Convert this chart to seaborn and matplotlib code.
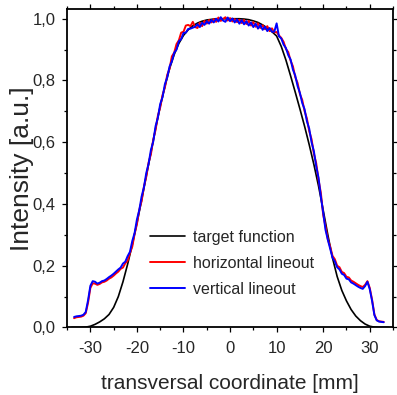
import seaborn as sns
import matplotlib.pyplot as plt
import numpy as np
from matplotlib.ticker import MultipleLocator, FuncFormatter

# target function, sampled every 1 mm from -34 to 34
target_x = np.arange(-34, 35, 1)
target_y = [0.000, 0.000, 0.000, 0.001, 0.004, 0.010, 0.018, 0.028, 0.042, 0.065,
            0.100, 0.148, 0.205, 0.268, 0.338, 0.412, 0.490, 0.566, 0.644, 0.716,
            0.780, 0.838, 0.884, 0.920, 0.946, 0.964, 0.977, 0.986, 0.992, 0.996,
            0.998, 1.000, 1.000, 1.000, 1.000, 1.000, 1.000, 0.999, 0.997, 0.993,
            0.988, 0.980, 0.970, 0.958, 0.944, 0.910, 0.866, 0.815, 0.762, 0.708,
            0.652, 0.592, 0.528, 0.458, 0.380, 0.300, 0.225, 0.165, 0.120, 0.086,
            0.058, 0.037, 0.022, 0.011, 0.004, 0.001, 0.000, 0.000, 0.000]

# measured lineouts, sampled every 0.5 mm from -33.5 to 33
lineout_x = np.arange(-33.5, 33.25, 0.5)
horizontal = [0.030, 0.033, 0.034, 0.035, 0.038, 0.046, 0.080, 0.128, 0.143, 0.142,
              0.138, 0.141, 0.146, 0.148, 0.152, 0.158, 0.162, 0.168, 0.175, 0.181,
              0.190, 0.194, 0.208, 0.216, 0.241, 0.262, 0.303, 0.335, 0.381, 0.409,
              0.456, 0.488, 0.534, 0.561, 0.608, 0.640, 0.686, 0.713, 0.753, 0.777,
              0.818, 0.838, 0.878, 0.890, 0.918, 0.930, 0.955, 0.958, 0.978, 0.980,
              0.976, 0.990, 0.973, 0.970, 0.987, 0.976, 0.993, 0.984, 0.996, 0.988,
              0.999, 0.990, 1.004, 0.993, 0.999, 1.005, 0.994, 1.002, 0.991, 0.999,
              0.989, 0.997, 0.986, 0.996, 0.983, 0.993, 0.978, 0.989, 0.974, 0.985,
              0.970, 0.979, 0.966, 0.976, 0.960, 0.969, 0.956, 0.957, 0.946, 0.938,
              0.925, 0.902, 0.892, 0.864, 0.846, 0.811, 0.792, 0.756, 0.737, 0.701,
              0.677, 0.636, 0.610, 0.563, 0.532, 0.478, 0.436, 0.365, 0.327, 0.285,
              0.262, 0.232, 0.221, 0.200, 0.195, 0.180, 0.176, 0.164, 0.162, 0.152,
              0.148, 0.143, 0.138, 0.134, 0.131, 0.138, 0.150, 0.128, 0.090, 0.042,
              0.024, 0.020, 0.019, 0.018]
vertical = [0.034, 0.036, 0.037, 0.038, 0.041, 0.050, 0.088, 0.135, 0.150, 0.148,
            0.142, 0.145, 0.150, 0.152, 0.157, 0.163, 0.168, 0.174, 0.181, 0.188,
            0.194, 0.207, 0.213, 0.231, 0.245, 0.280, 0.306, 0.350, 0.380, 0.424,
            0.454, 0.500, 0.530, 0.575, 0.602, 0.652, 0.680, 0.724, 0.746, 0.788,
            0.810, 0.845, 0.862, 0.890, 0.900, 0.927, 0.934, 0.954, 0.955, 0.967,
            0.968, 0.971, 0.974, 0.982, 0.973, 0.987, 0.980, 0.992, 0.984, 0.996,
            0.988, 1.000, 0.991, 1.005, 0.994, 0.990, 1.004, 0.992, 1.001, 0.988,
            0.998, 0.984, 0.995, 0.982, 0.992, 0.978, 0.988, 0.973, 0.984, 0.968,
            0.980, 0.964, 0.974, 0.960, 0.970, 0.958, 0.958, 0.985, 0.943, 0.936,
            0.916, 0.905, 0.882, 0.868, 0.835, 0.816, 0.782, 0.760, 0.727, 0.707,
            0.668, 0.644, 0.600, 0.571, 0.522, 0.485, 0.424, 0.372, 0.316, 0.284,
            0.255, 0.226, 0.214, 0.195, 0.188, 0.174, 0.170, 0.158, 0.156, 0.146,
            0.142, 0.137, 0.132, 0.128, 0.125, 0.134, 0.148, 0.124, 0.086, 0.040,
            0.023, 0.019, 0.018, 0.017]

sns.set_theme(style="ticks")
plt.rcParams['font.family'] = ['Liberation Sans', 'DejaVu Sans']
plt.rcParams['axes.unicode_minus'] = False

fig = plt.figure(figsize=(3.97, 3.95), dpi=100)
ax = fig.add_axes([0.169, 0.171, 0.821, 0.805])

sns.lineplot(x=target_x, y=target_y, color="black", lw=1.2, label="target function", ax=ax)
sns.lineplot(x=lineout_x, y=horizontal, color="red", lw=1.4, label="horizontal lineout", ax=ax)
sns.lineplot(x=lineout_x, y=vertical, color="blue", lw=1.4, label="vertical lineout", ax=ax)

ax.set_xlim(-35, 35)
ax.set_ylim(0, 1.03)
ax.xaxis.set_major_locator(MultipleLocator(10))
ax.xaxis.set_minor_locator(MultipleLocator(5))
ax.yaxis.set_major_locator(MultipleLocator(0.2))
ax.yaxis.set_minor_locator(MultipleLocator(0.1))
ax.yaxis.set_major_formatter(FuncFormatter(lambda v, p: f"{v:.1f}".replace(".", ",")))

for s in ax.spines.values():
    s.set_visible(True)
    s.set_color("black")
    s.set_linewidth(1.3)

ax.tick_params(which="both", direction="out", top=True, right=True,
               labeltop=False, labelright=False, color="black", width=0.9)
ax.tick_params(which="major", length=3.5, labelsize=12)
ax.tick_params(which="minor", length=2)
ax.tick_params(axis="x", which="major", pad=6)
ax.tick_params(axis="y", which="major", pad=5)

ax.set_xlabel("transversal coordinate [mm]", fontsize=15, labelpad=13)
ax.set_ylabel("Intensity [a.u.]", fontsize=19, labelpad=-1)

ax.legend(loc="center left", bbox_to_anchor=(0.255, 0.202), frameon=False,
          fontsize=11.5, handlelength=2.2, handletextpad=0.5,
          labelspacing=0.68, borderpad=0, borderaxespad=0)

fig.savefig("out.png", dpi=100)
